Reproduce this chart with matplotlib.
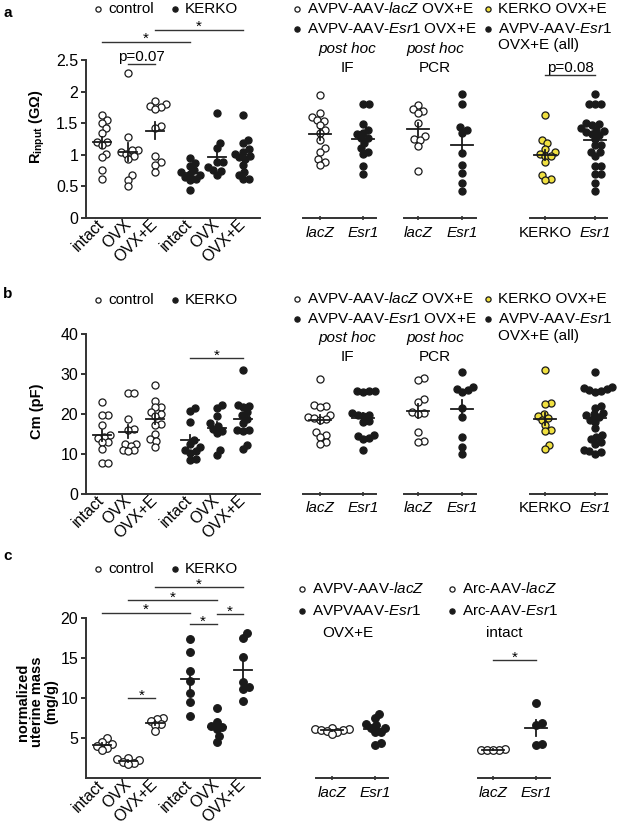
import numpy as np
import matplotlib
matplotlib.use("Agg")
import matplotlib.pyplot as plt

plt.rcParams['font.family'] = ['Liberation Sans', 'DejaVu Sans']
plt.rcParams['font.size'] = 11
plt.rcParams['mathtext.fontset'] = 'custom'
plt.rcParams['mathtext.rm'] = 'Liberation Sans'
plt.rcParams['mathtext.it'] = 'Liberation Sans:italic'
plt.rcParams['mathtext.bf'] = 'Liberation Sans:bold'

# ---------------- data ----------------
groups = ['intact', 'OVX', 'OVX+E', 'intact', 'OVX', 'OVX+E']
is_ko = [False, False, False, True, True, True]

# panel a: input resistance (GOhm)
rin_main = [
    [1.63, 1.55, 1.50, 1.42, 1.35, 1.21, 1.20, 1.16, 1.02, 0.96, 0.76, 0.61],
    [2.29, 1.28, 1.08, 1.07, 1.05, 1.02, 0.98, 0.93, 0.68, 0.60, 0.50],
    [1.85, 1.80, 1.77, 1.75, 1.73, 1.46, 1.43, 0.98, 0.88, 0.84, 0.72],
    [0.95, 0.87, 0.82, 0.76, 0.72, 0.70, 0.68, 0.65, 0.62, 0.60, 0.45],
    [1.66, 1.19, 1.11, 0.88, 0.88, 0.81, 0.76, 0.74, 0.68],
    [1.63, 1.23, 1.18, 1.09, 1.05, 1.02, 0.98, 0.96, 0.93, 0.84, 0.73, 0.68, 0.61, 0.61],
]
rin_if = [
    [1.94, 1.66, 1.60, 1.55, 1.54, 1.47, 1.39, 1.35, 1.23, 1.10, 1.05, 0.93, 0.89, 0.84],
    [1.80, 1.80, 1.48, 1.40, 1.35, 1.33, 1.26, 1.26, 1.18, 1.10, 1.05, 1.01, 0.82, 0.70],
]
rin_pcr = [
    [1.79, 1.72, 1.70, 1.66, 1.50, 1.29, 1.25, 1.23, 1.14, 0.74],
    [1.96, 1.80, 1.44, 1.40, 1.35, 1.03, 0.84, 0.71, 0.55, 0.43],
]
rin_all = [
    [1.63, 1.23, 1.18, 1.09, 1.05, 1.02, 0.98, 0.98, 0.88, 0.68, 0.61, 0.60],
    [1.96, 1.80, 1.80, 1.80, 1.50, 1.48, 1.47, 1.42, 1.40, 1.38, 1.36, 1.33, 1.32,
     1.25, 1.15, 1.15, 1.05, 1.04, 0.98, 0.82, 0.82, 0.70, 0.70, 0.55, 0.43],
]

# panel b: capacitance (pF)
cm_main = [
    [23.0, 19.8, 19.6, 17.3, 14.6, 14.2, 14.0, 13.0, 12.8, 11.1, 7.7, 7.7],
    [25.3, 25.3, 18.6, 16.2, 15.8, 12.5, 12.3, 12.0, 11.0, 10.8, 10.6],
    [27.2, 23.3, 21.8, 21.6, 20.5, 20.0, 19.5, 17.5, 17.3, 14.9, 13.6, 13.2, 11.7],
    [21.5, 20.6, 18.0, 13.5, 12.4, 11.6, 11.0, 10.6, 10.2, 8.7, 8.3],
    [22.2, 21.5, 19.4, 17.6, 17.0, 16.3, 15.6, 15.1, 11.0, 9.7],
    [30.9, 22.3, 22.0, 21.8, 20.4, 19.6, 18.8, 17.7, 15.9, 15.8, 15.6, 12.2, 11.1],
]
cm_if = [
    [28.7, 22.2, 22.0, 21.8, 19.8, 19.2, 19.0, 18.8, 18.5, 15.4, 14.6, 14.2, 13.0, 12.4],
    [25.8, 25.7, 25.6, 25.5, 20.2, 19.8, 19.7, 19.5, 18.3, 18.0, 14.6, 14.3, 13.8, 13.6, 10.9],
]
cm_pcr = [
    [29.0, 28.4, 23.6, 23.0, 20.5, 20.2, 20.0, 15.5, 13.2, 12.9],
    [30.5, 26.8, 26.3, 26.0, 25.5, 21.5, 19.2, 14.2, 11.6, 10.0],
]
cm_all = [
    [30.9, 22.8, 22.5, 20.0, 19.5, 19.0, 18.5, 17.2, 15.8, 15.7, 12.2, 11.1],
    [30.5, 26.8, 26.5, 26.3, 26.0, 25.8, 25.5, 22.0, 21.5, 20.3, 20.0, 19.6, 19.2,
     18.5, 18.0, 16.5, 14.6, 14.2, 13.6, 13.0, 12.5, 11.0, 10.6, 10.5, 10.0],
]

# panel c: normalized uterine mass (mg/g)
ut_main = [
    [5.0, 4.6, 4.3, 4.0, 3.8, 3.6],
    [2.6, 2.4, 2.3, 2.1, 1.9, 1.8],
    [7.5, 7.4, 7.2, 6.8, 6.7, 5.9],
    [17.4, 15.8, 13.4, 12.2, 10.7, 9.6, 7.8],
    [8.8, 7.0, 6.6, 6.4, 6.2, 5.3, 4.6],
    [18.1, 17.5, 15.2, 12.0, 11.4, 11.2, 9.7],
]
ut_avpv = [
    [6.3, 6.2, 6.2, 6.1, 6.0, 5.9, 5.8, 5.5],
    [8.0, 7.5, 6.8, 6.7, 6.3, 6.3, 5.8, 5.8, 4.4, 4.2],
]
ut_arc = [
    [3.65, 3.6, 3.6, 3.55, 3.5],
    [9.4, 6.9, 6.7, 4.3, 4.2],
]

# significance bars: (from, to, height, label)
sig_a = [(0, 3, 2.79, '*'), (2, 5, 2.98, '*'), (1, 2, 2.44, 'p=0.07')]
sig_b = [(3, 5, 34.0, '*')]
sig_c = [(2, 5, 23.9, '*'), (1, 4, 22.3, '*'), (0, 3, 20.7, '*'),
         (3, 4, 19.25, '*'), (4, 5, 20.5, '*'), (1, 2, 10.0, '*')]

# ---------------- layout ----------------
W, H = 617, 825
fig = plt.figure(figsize=(W / 100, H / 100), dpi=100)
INK = '#1a1a1a'
AXC = '#333333'
YEL = '#f0e040'
pos_main = [0, 1, 2, 3.3, 4.3, 5.3]

ov = fig.add_axes([0, 0, 1, 1])
ov.set_xlim(0, W)
ov.set_ylim(H, 0)
ov.axis('off')


def px(x, y):
    return (x / W, 1 - y / H)


def make_ax(x0, x1, top, bot, ylim, cat0, step):
    ax = fig.add_axes([x0 / W, 1 - bot / H, (x1 - x0) / W, (bot - top) / H])
    ax.set_xlim((x0 - cat0) / step, (x1 - cat0) / step)
    ax.set_ylim(*ylim)
    ax.patch.set_alpha(0)
    for s in ['top', 'right']:
        ax.spines[s].set_visible(False)
    for s in ['left', 'bottom']:
        ax.spines[s].set_color(AXC)
        ax.spines[s].set_linewidth(1.4)
    return ax


def swarm_x(ax, x, vals, d=6.0):
    # simple beeswarm: nudge points sideways so they do not sit on top of each other
    T = ax.transData
    cx = T.transform((x, 0))[0]
    ys = [T.transform((x, v))[1] for v in vals]
    placed = []
    out = np.zeros(len(vals))
    for i in np.argsort(ys):
        y = ys[i]
        cands = [0.0]
        for px_, py_ in placed:
            dy = y - py_
            if abs(dy) < d:
                dx = np.sqrt(d * d - dy * dy)
                cands += [px_ - cx + dx, px_ - cx - dx]
        cands.sort(key=abs)
        for c in cands:
            if all((cx + c - px_) ** 2 + (y - py_) ** 2 >= d * d - 1e-6 for px_, py_ in placed):
                break
        placed.append((cx + c, y))
        out[i] = T.inverted().transform((cx + c, y))[0]
    return out


def dots(ax, x, vals, face, s=26, half_px=9):
    xs = swarm_x(ax, x, vals)
    ax.scatter(xs, vals, s=s, facecolor=face, edgecolor=INK, linewidth=0.9,
               zorder=3, clip_on=False)
    v = np.asarray(vals)
    m = v.mean()
    se = v.std(ddof=1) / np.sqrt(len(v))
    p = ax.transData.transform((x, m))
    inv = ax.transData.inverted()
    xl = inv.transform((p[0] - half_px, p[1]))[0]
    xr = inv.transform((p[0] + half_px, p[1]))[0]
    ax.plot([xl, xr], [m, m], color=INK, lw=1.3, zorder=4)
    ax.plot([x, x], [m - se, m + se], color=INK, lw=1.3, zorder=4)


def sig(ax, a, b, y, label):
    ax.plot([a, b], [y, y], color=AXC, lw=1.0, clip_on=False)
    dy = -1 if label == '*' else 2
    ax.annotate(label, xy=((a + b) / 2, y), xytext=(0, dy), textcoords='offset points',
                ha='center', va='baseline', fontsize=11, annotation_clip=False)


def main_panel(top, bot, ylim, yticks, ylabels, data, sigs, ylab, ylab_y):
    ax = make_ax(86, 260, top, bot, ylim, 101.7, 26.7)
    ax.set_yticks(yticks)
    ax.set_yticklabels(ylabels, fontsize=11.5)
    ax.tick_params(axis='y', length=3.5, width=1.4, color=AXC, pad=2)
    ax.set_xticks(pos_main)
    ax.set_xticklabels(groups, rotation=45, ha='right', va='center',
                       rotation_mode='anchor', fontsize=11.5)
    ax.tick_params(axis='x', length=0, pad=3)
    for k, vals in enumerate(data):
        dots(ax, pos_main[k], vals, INK if is_ko[k] else 'white', s=30 if ylim[1] == 20 else 26)
    for i, j, y, lab in sigs:
        sig(ax, pos_main[i], pos_main[j], y, lab)
    fig.text(*px(37, ylab_y), ylab, rotation=90, ha='center', va='center',
             fontsize=10.5, fontweight='bold', linespacing=1.0)
    return ax


def side_panel(x0, x1, cat0, step, top, bot, ylim, data, faces, labels, italics):
    ax = make_ax(x0, x1, top, bot, ylim, cat0, step)
    ax.spines['left'].set_visible(False)
    ax.set_yticks([])
    ax.set_xticks([0, 1])
    ax.set_xticklabels(labels, fontsize=11)
    for t, it in zip(ax.get_xticklabels(), italics):
        t.set_fontstyle('italic' if it else 'normal')
    ax.tick_params(axis='x', length=3, width=1.2, color=AXC, direction='inout', pad=4)
    for k, vals in enumerate(data):
        dots(ax, k, vals, faces[k], s=30 if ylim[1] == 20 else 26, half_px=11)
    return ax


def legend_item(x, ybase, face, text, size=14):
    ov.scatter([x], [ybase - 4.5], s=size, facecolor=face, edgecolor=INK, linewidth=0.9)
    ov.text(x + 10, ybase, text, ha='left', va='baseline', fontsize=11)


# ---------- panel a ----------
main_panel(60, 218, (0, 2.5), [0, 0.5, 1, 1.5, 2, 2.5], ['0', '0.5', '1', '1.5', '2', '2.5'],
           rin_main, sig_a, r'$\mathbf{R_{input}}$ (GΩ)', 127)
side_panel(303, 376, 320, 43, 60, 218, (0, 2.5), rin_if, ['white', INK], ['lacZ', 'Esr1'], [True, True])
side_panel(404, 476, 418, 44, 60, 218, (0, 2.5), rin_pcr, ['white', INK], ['lacZ', 'Esr1'], [True, True])
ax_a3 = side_panel(530, 607, 545, 50, 60, 218, (0, 2.5), rin_all, [YEL, INK], ['KERKO', 'Esr1'], [False, True])
sig(ax_a3, 0, 1, 2.27, 'p=0.08')

ov.text(3, 17, 'a', fontsize=11, fontweight='bold', va='baseline')
legend_item(98, 13, 'white', 'control')
legend_item(175, 13, INK, 'KERKO')
legend_item(297, 13, 'white', r'AVPV-AAV-$\mathit{lacZ}$ OVX+E')
legend_item(297, 33, INK, r'AVPV-AAV-$\mathit{Esr1}$ OVX+E')
legend_item(488, 13, YEL, 'KERKO OVX+E')
legend_item(488, 33, INK, r'AVPV-AAV-$\mathit{Esr1}$')
ov.text(498, 49, 'OVX+E (all)', ha='left', va='baseline', fontsize=11)
for xc, lab in [(347, 'IF'), (435, 'PCR')]:
    ov.text(xc, 53, 'post hoc', ha='center', va='baseline', fontsize=11, style='italic')
    ov.text(xc, 72, lab, ha='center', va='baseline', fontsize=11)

# ---------- panel b ----------
main_panel(334, 493.5, (0, 40), [0, 10, 20, 30, 40], ['0', '10', '20', '30', '40'],
           cm_main, sig_b, 'Cm (pF)', 411)
side_panel(303, 376, 320, 43, 334, 493.5, (0, 40), cm_if, ['white', INK], ['lacZ', 'Esr1'], [True, True])
side_panel(404, 476, 418, 44, 334, 493.5, (0, 40), cm_pcr, ['white', INK], ['lacZ', 'Esr1'], [True, True])
side_panel(530, 607, 545, 50, 334, 493.5, (0, 40), cm_all, [YEL, INK], ['KERKO', 'Esr1'], [False, True])

ov.text(3, 298, 'b', fontsize=11, fontweight='bold', va='baseline')
legend_item(98, 304, 'white', 'control')
legend_item(175, 304, INK, 'KERKO')
legend_item(297, 303, 'white', r'AVPV-AAV-$\mathit{lacZ}$ OVX+E')
legend_item(297, 323, INK, r'AVPV-AAV-$\mathit{Esr1}$ OVX+E')
legend_item(488, 303, YEL, 'KERKO OVX+E')
legend_item(488, 323, INK, r'AVPV-AAV-$\mathit{Esr1}$')
ov.text(498, 340, 'OVX+E (all)', ha='left', va='baseline', fontsize=11)
for xc, lab in [(347, 'IF'), (435, 'PCR')]:
    ov.text(xc, 342, 'post hoc', ha='center', va='baseline', fontsize=11, style='italic')
    ov.text(xc, 361, lab, ha='center', va='baseline', fontsize=11)

# ---------- panel c ----------
main_panel(618.3, 778.3, (0, 20), [5, 10, 15, 20], ['5', '10', '15', '20'],
           ut_main, sig_c, 'normalized\nuterine mass\n(mg/g)', 702)
side_panel(316, 388, 332, 43, 618.3, 778.3, (0, 20), ut_avpv, ['white', INK], ['lacZ', 'Esr1'], [True, True])
ax_c2 = side_panel(478, 550, 493, 43, 618.3, 778.3, (0, 20), ut_arc, ['white', INK], ['lacZ', 'Esr1'], [True, True])
sig(ax_c2, 0, 1, 14.8, '*')

ov.text(3, 560, 'c', fontsize=11, fontweight='bold', va='baseline')
legend_item(98, 573, 'white', 'control')
legend_item(175, 573, INK, 'KERKO')
legend_item(302, 593, 'white', r'AVPV-AAV-$\mathit{lacZ}$')
legend_item(302, 615, INK, r'AVPVAAV-$\mathit{Esr1}$')
ov.text(348, 637, 'OVX+E', ha='center', va='baseline', fontsize=11)
legend_item(452, 593, 'white', r'Arc-AAV-$\mathit{lacZ}$')
legend_item(452, 615, INK, r'Arc-AAV-$\mathit{Esr1}$')
ov.text(504, 637, 'intact', ha='center', va='baseline', fontsize=11)

fig.savefig('out.png', dpi=100)
